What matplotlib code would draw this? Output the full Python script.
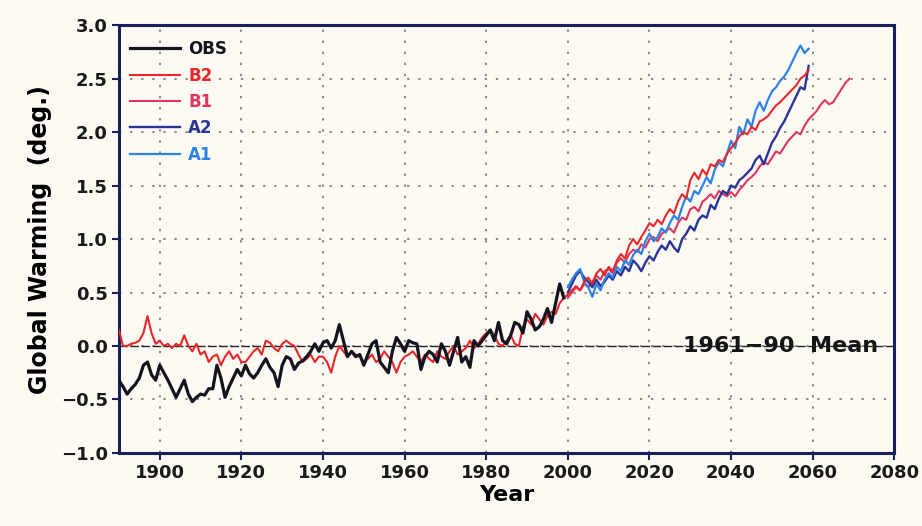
import numpy as np
import matplotlib.pyplot as plt

# observed global mean anomaly, 1890-1999
obs = [-0.32, -0.38, -0.45, -0.40, -0.36, -0.30, -0.18, -0.15, -0.27, -0.32,
       -0.18, -0.25, -0.32, -0.40, -0.48, -0.40, -0.32, -0.45, -0.52, -0.48,
       -0.45, -0.46, -0.40, -0.40, -0.18, -0.30, -0.48, -0.38, -0.30, -0.22,
       -0.28, -0.18, -0.26, -0.30, -0.25, -0.18, -0.12, -0.20, -0.25, -0.38,
       -0.18, -0.10, -0.12, -0.22, -0.16, -0.14, -0.10, -0.05, 0.02, -0.05,
       0.03, 0.05, -0.02, 0.05, 0.20, 0.05, -0.10, -0.05, -0.10, -0.08,
       -0.18, -0.08, 0.02, 0.05, -0.15, -0.20, -0.25, -0.05, 0.08, 0.02,
       -0.05, 0.05, 0.03, 0.02, -0.22, -0.10, -0.05, -0.08, -0.15, 0.02,
       -0.05, -0.18, -0.05, 0.08, -0.15, -0.10, -0.20, 0.05, 0.00, 0.05,
       0.10, 0.15, 0.05, 0.22, 0.05, 0.02, 0.10, 0.22, 0.20, 0.12,
       0.32, 0.25, 0.15, 0.18, 0.25, 0.35, 0.22, 0.40, 0.58, 0.45]

# B2 run, 1890-2059 (historical forcing then scenario)
b2 = [0.15, 0.00, 0.00, 0.02, 0.03, 0.05, 0.12, 0.28, 0.12, 0.02,
      0.05, 0.00, 0.02, -0.02, 0.02, 0.00, 0.10, 0.00, -0.05, 0.02,
      -0.08, -0.05, -0.15, -0.10, -0.08, -0.18, -0.10, -0.05, -0.12, -0.08,
      -0.15, -0.15, -0.10, -0.05, -0.02, -0.08, 0.05, 0.03, -0.02, -0.05,
      0.02, 0.05, 0.02, 0.00, -0.08, -0.15, -0.12, -0.08, -0.15, -0.10,
      -0.10, -0.15, -0.25, -0.10, 0.00, -0.05, -0.10, -0.05, -0.08, -0.10,
      -0.15, -0.12, -0.08, -0.15, -0.12, -0.05, -0.10, -0.15, -0.25, -0.15,
      -0.10, -0.08, -0.05, -0.10, -0.15, -0.08, -0.12, -0.15, -0.05, -0.10,
      -0.12, -0.05, 0.00, -0.08, -0.05, -0.02, 0.05, -0.02, 0.02, 0.08,
      0.12, 0.15, 0.10, 0.02, 0.00, 0.05, 0.10, 0.02, 0.00, 0.18,
      0.25, 0.20, 0.30, 0.25, 0.20, 0.28, 0.32, 0.30, 0.40, 0.45,
      0.48, 0.52, 0.56, 0.52, 0.60, 0.64, 0.58, 0.68, 0.72, 0.66,
      0.74, 0.70, 0.80, 0.86, 0.82, 0.94, 1.00, 0.95, 1.02, 1.08,
      1.15, 1.12, 1.18, 1.14, 1.22, 1.28, 1.24, 1.35, 1.42, 1.38,
      1.55, 1.62, 1.56, 1.65, 1.60, 1.70, 1.68, 1.74, 1.72, 1.80,
      1.85, 1.90, 1.96, 2.00, 1.98, 2.05, 2.02, 2.10, 2.12, 2.15,
      2.20, 2.25, 2.28, 2.32, 2.36, 2.40, 2.44, 2.50, 2.53, 2.58]

# B1 run, 2000-2069
b1 = [0.45, 0.50, 0.55, 0.52, 0.58, 0.55, 0.60, 0.66, 0.62, 0.70,
      0.72, 0.68, 0.78, 0.82, 0.78, 0.86, 0.90, 0.88, 0.95, 0.92,
      1.00, 1.02, 0.98, 1.05, 1.08, 1.10, 1.06, 1.15, 1.20, 1.18,
      1.28, 1.30, 1.26, 1.35, 1.38, 1.42, 1.38, 1.45, 1.42, 1.40,
      1.44, 1.40, 1.46, 1.50, 1.55, 1.58, 1.62, 1.68, 1.72, 1.70,
      1.76, 1.82, 1.80, 1.86, 1.92, 1.96, 2.00, 1.98, 2.06, 2.12,
      2.16, 2.20, 2.26, 2.30, 2.26, 2.28, 2.34, 2.40, 2.46, 2.50]

# A2 run, 2000-2059
a2 = [0.50, 0.58, 0.66, 0.70, 0.64, 0.60, 0.55, 0.62, 0.56, 0.60,
      0.66, 0.62, 0.70, 0.66, 0.74, 0.70, 0.80, 0.76, 0.70, 0.78,
      0.84, 0.80, 0.88, 0.94, 0.90, 0.98, 0.92, 0.88, 1.00, 1.05,
      1.12, 1.08, 1.18, 1.22, 1.20, 1.32, 1.28, 1.38, 1.45, 1.42,
      1.50, 1.48, 1.55, 1.58, 1.62, 1.66, 1.74, 1.78, 1.70, 1.80,
      1.90, 1.96, 2.04, 2.10, 2.18, 2.26, 2.34, 2.42, 2.40, 2.62]

# A1 run, 2000-2059
a1 = [0.55, 0.62, 0.68, 0.72, 0.60, 0.55, 0.46, 0.58, 0.52, 0.62,
      0.68, 0.64, 0.74, 0.70, 0.80, 0.76, 0.85, 0.90, 0.86, 0.98,
      1.05, 0.98, 1.02, 1.10, 1.06, 1.15, 1.22, 1.18, 1.30, 1.40,
      1.35, 1.45, 1.42, 1.50, 1.58, 1.52, 1.65, 1.72, 1.68, 1.80,
      1.92, 1.85, 2.05, 1.98, 2.12, 2.05, 2.20, 2.28, 2.20, 2.30,
      2.38, 2.42, 2.48, 2.52, 2.58, 2.66, 2.74, 2.81, 2.74, 2.78]

yr_obs = np.arange(1890, 1890 + len(obs))
yr_b2 = np.arange(1890, 1890 + len(b2))
yr_b1 = np.arange(2000, 2000 + len(b1))
yr_a2 = np.arange(2000, 2000 + len(a2))
yr_a1 = np.arange(2000, 2000 + len(a1))

bg = '#fcfaf3'
navy = '#1b1f5a'

fig = plt.figure(figsize=(9.22, 5.26), dpi=100, facecolor=bg)
ax = fig.add_axes([0.129, 0.139, 0.841, 0.813])
ax.set_facecolor(bg)

ax.plot(yr_b1, b1, color='#e0365e', lw=1.5, label='B1', zorder=3)
ax.plot(yr_a2, a2, color='#2b3596', lw=1.7, label='A2', zorder=3)
ax.plot(yr_a1, a1, color='#2d82e6', lw=1.6, label='A1', zorder=3)
ax.plot(yr_b2, b2, color='#e8262c', lw=1.5, label='B2', zorder=3)
ax.plot(yr_obs, obs, color='#14141e', lw=2.3, label='OBS', zorder=4)

ax.axhline(0, color='#222222', lw=1.0, ls=(0, (6, 2)), zorder=2)
ax.text(2052, 0.0, '1961\u221290  Mean', ha='center', va='center',
        fontsize=16, fontweight='bold', color='#151515', zorder=5)

ax.set_xlim(1890, 2080)
ax.set_ylim(-1.0, 3.0)
ax.set_xticks(np.arange(1900, 2081, 20))
ax.set_yticks(np.arange(-1.0, 3.01, 0.5))
ax.set_yticklabels(['\u22121.0', '\u22120.5', '0.0', '0.5', '1.0',
                    '1.5', '2.0', '2.5', '3.0'])
ax.grid(True, color='#888888', ls=(0, (1.2, 4.5)), lw=1.4)
ax.set_axisbelow(True)

for s in ax.spines.values():
    s.set_color(navy)
    s.set_linewidth(2.2)
ax.tick_params(direction='out', length=5, width=1.5, color=navy,
               labelsize=13, pad=3)
for lab in ax.get_xticklabels() + ax.get_yticklabels():
    lab.set_fontweight('bold')
    lab.set_color('#1a1a1a')

ax.set_xlabel('Year', fontsize=16, fontweight='bold', labelpad=2)
ax.set_ylabel('Global Warming  (deg.)', fontsize=17, fontweight='bold', labelpad=6)

handles, labels = ax.get_legend_handles_labels()
order = ['OBS', 'B2', 'B1', 'A2', 'A1']
hmap = dict(zip(labels, handles))
leg = ax.legend([hmap[k] for k in order], order, loc='upper left',
                frameon=False, fontsize=12, handlelength=3.0,
                handletextpad=0.5, labelspacing=0.5,
                bbox_to_anchor=(-0.005, 1.0))
for txt, k in zip(leg.get_texts(), order):
    txt.set_color(hmap[k].get_color())
    txt.set_fontweight('bold')

fig.savefig('out.png', dpi=100, facecolor=bg)
